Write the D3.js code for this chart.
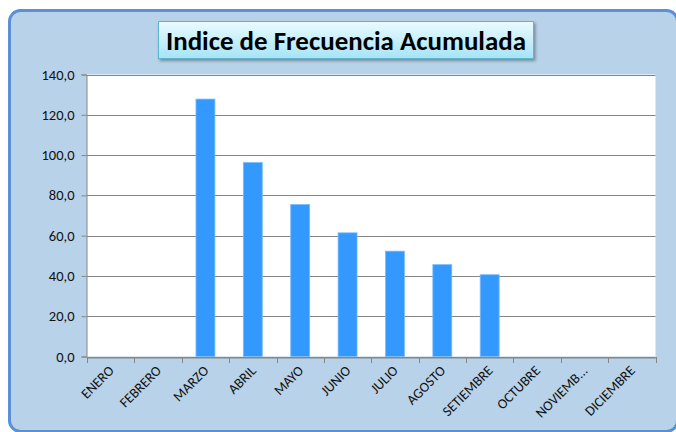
<!DOCTYPE html>
<html>
<head>
<meta charset="utf-8">
<script src="https://cdn.jsdelivr.net/npm/d3@7"></script>
<style>
  body { margin: 0; background: #fff; }
  svg { display: block; }
</style>
</head>
<body>
<div id="chart-container"></div>
<script>
const months = ['ENERO', 'FEBRERO', 'MARZO', 'ABRIL', 'MAYO', 'JUNIO', 'JULIO',
  'AGOSTO', 'SETIEMBRE', 'OCTUBRE', 'NOVIEMB...', 'DICIEMBRE']
const values = [null, null, 127.8, 96.3, 75.5, 61.4, 52.3, 45.6, 40.6, null, null, null]
const yTicks = [0, 20, 40, 60, 80, 100, 120, 140]
const title = 'Indice de Frecuencia Acumulada'

const width = 676
const height = 432
const plot = { left: 87, right: 655.5, top: 74.5, bottom: 356.5 }
const fontFamily = 'Carlito, Calibri, "Open Sans", "Noto Sans", sans-serif'

const svg = d3.select('#chart-container')
  .append('svg')
  .attr('width', width)
  .attr('height', height)

const defs = svg.append('defs')
const grad = defs.append('linearGradient')
  .attr('id', 'titleGrad')
  .attr('x1', 0).attr('y1', 0).attr('x2', 0).attr('y2', 1)
grad.append('stop').attr('offset', '0%').attr('stop-color', '#eafbff')
grad.append('stop').attr('offset', '100%').attr('stop-color', '#a6e4f7')

const shadow = defs.append('filter').attr('id', 'shadow')
  .attr('x', '-10%').attr('y', '-20%').attr('width', '120%').attr('height', '160%')
shadow.append('feDropShadow')
  .attr('dx', 1.5).attr('dy', 2).attr('stdDeviation', 1.5)
  .attr('flood-color', '#000').attr('flood-opacity', 0.35)

// outer frame
svg.append('rect')
  .attr('x', 9.5).attr('y', 10.5)
  .attr('width', 668).attr('height', 421)
  .attr('rx', 11)
  .attr('fill', '#b7d2e9')
  .attr('stroke', '#5b8fd6')
  .attr('stroke-width', 3)

// title box
svg.append('rect')
  .attr('x', 158.5).attr('y', 21.5)
  .attr('width', 375).attr('height', 37)
  .attr('fill', 'url(#titleGrad)')
  .attr('stroke', '#5cb6cf')
  .attr('stroke-width', 1)
  .attr('filter', 'url(#shadow)')

svg.append('text')
  .attr('x', 346).attr('y', 41)
  .attr('text-anchor', 'middle')
  .attr('dominant-baseline', 'central')
  .attr('font-family', fontFamily)
  .attr('font-weight', 'bold')
  .attr('font-size', 26)
  .attr('fill', '#000')
  .attr('textLength', 360)
  .attr('lengthAdjust', 'spacingAndGlyphs')
  .text(title)

const x = d3.scaleBand()
  .domain(months)
  .range([plot.left, plot.right])
  .paddingInner(0.6)
  .paddingOuter(0.3)

const xBand = d3.scaleBand()
  .domain(months)
  .range([plot.left, plot.right])

const y = d3.scaleLinear()
  .domain([0, 140])
  .range([plot.bottom, plot.top])

// plot background
svg.append('rect')
  .attr('x', plot.left).attr('y', plot.top)
  .attr('width', plot.right - plot.left)
  .attr('height', plot.bottom - plot.top)
  .attr('fill', '#fff')

// grid lines
svg.append('g')
  .selectAll('line')
  .data(yTicks)
  .join('line')
  .attr('x1', plot.left).attr('x2', plot.right)
  .attr('y1', d => Math.round(y(d)) + 0.5)
  .attr('y2', d => Math.round(y(d)) + 0.5)
  .attr('stroke', '#868686')
  .attr('stroke-width', 1)

// bars
svg.append('g')
  .selectAll('rect')
  .data(months.map((m, i) => ({ m, v: values[i] })).filter(d => d.v != null))
  .join('rect')
  .attr('x', d => x(d.m))
  .attr('y', d => y(d.v))
  .attr('width', x.bandwidth())
  .attr('height', d => y(0) - y(d.v))
  .attr('fill', '#3399ff')
  .attr('stroke', '#7bbcff')
  .attr('stroke-width', 0.8)

// y axis
const yAxis = svg.append('g')
  .attr('transform', `translate(${plot.left - 0.5},0)`)
  .call(d3.axisLeft(y).tickValues(yTicks).tickSize(5).tickPadding(7)
    .tickFormat(d => d3.format('.1f')(d).replace('.', ',')))
yAxis.select('.domain').attr('stroke', '#868686')
yAxis.selectAll('.tick line').attr('stroke', '#868686')
yAxis.selectAll('text')
  .attr('font-family', fontFamily)
  .attr('font-size', 14.5)
  .attr('fill', '#111')

// x axis
const xAxis = svg.append('g')
  .attr('transform', `translate(0,${Math.round(y(0)) + 0.5})`)
  .call(d3.axisBottom(xBand).tickSize(0).tickFormat(''))
xAxis.select('.domain').attr('stroke', '#868686')

svg.append('g')
  .selectAll('line')
  .data(d3.range(months.length + 1))
  .join('line')
  .attr('x1', i => Math.round(plot.left + i * xBand.step()) + 0.5)
  .attr('x2', i => Math.round(plot.left + i * xBand.step()) + 0.5)
  .attr('y1', Math.round(y(0)))
  .attr('y2', Math.round(y(0)) + 6)
  .attr('stroke', '#868686')

svg.append('g')
  .selectAll('text')
  .data(months)
  .join('text')
  .attr('transform', d => `translate(${xBand(d) + xBand.bandwidth() / 2 + 4},${y(0) + 15}) rotate(-45)`)
  .attr('text-anchor', 'end')
  .attr('font-family', fontFamily)
  .attr('font-size', 14)
  .attr('fill', '#111')
  .text(d => d)
</script>
</body>
</html>
